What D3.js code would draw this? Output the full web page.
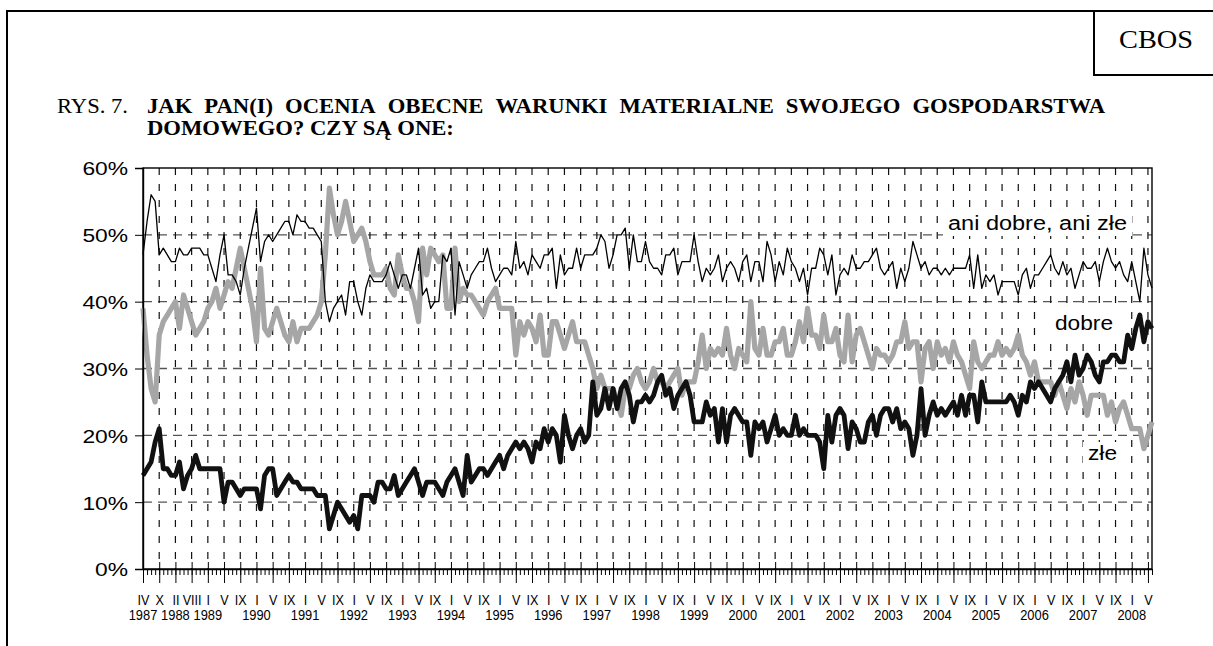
<!DOCTYPE html>
<html>
<head>
<meta charset="utf-8">
<script src="https://cdnjs.cloudflare.com/ajax/libs/d3/7.8.5/d3.min.js"></script>
<style>
  body { margin: 0; background: #fff; }
  svg { display: block; }
</style>
</head>
<body>
<div id="chart"></div>
<script>
/*
** CBOS - rys. 7
** Ocena warunkow materialnych gospodarstwa domowego 1987-2008
*/

// Global variables

let width = 1213;
let height = 646;

// plot box (0% .. 60%)
let plotLeft = 143;
let plotRight = 1152;
let plotTop = 168;
let plotBottom = 569;

// Colours of the series
let colorDobre = "#111111";
let colorZle = "#a6a6a6";
let colorAni = "#000000";

// month numerals
const romans = ["I", "II", "III", "IV", "V", "VI", "VII", "VIII", "IX", "X", "XI", "XII"];

// 1987-1988 surveys were not done every month
const earlySurveys = ["IV 1987", "V 1987", "VII 1987", "IX 1987", "X 1987", "XI 1987", "XII 1987",
    "I 1988", "II 1988", "III 1988", "V 1988", "VI 1988", "VIII 1988", "X 1988", "XI 1988", "XII 1988"];
const lastSurvey = "VI 2008";

// one label every 4 surveys
const labelEvery = 4;

const yTicks = [0, 10, 20, 30, 40, 50, 60];

// "dobre" (thick black)
const dobre = [
    14, 15, 16, 19, 21, 15, 15, 14, 14, 16, 12, 14, 15, 17, 15, 15,
    15, 15, 15, 15, 10, 13, 13, 12, 11, 12, 12, 12, 12, 9, 14, 15,
    15, 11, 12, 13, 14, 13, 13, 12, 12, 12, 12, 11, 11, 11, 6, 8,
    10, 9, 8, 7, 8, 6, 11, 11, 11, 10,
    13, 13, 12, 12, 14, 11, 12, 13, 14, 15,
    13, 11, 13, 13, 13, 12, 11, 13, 14, 15,
    13, 11, 17, 13, 14, 15, 15, 14, 15, 16,
    17, 15, 17, 18, 19, 18, 19, 18, 16, 19,
    18, 21, 19, 21, 20, 16, 23, 20, 18, 20,
    21, 19, 20, 28, 23, 24, 27, 24, 27, 24,
    27, 28, 26, 22, 25, 25, 26, 25, 26, 28,
    29, 26, 27, 24, 26, 27, 28, 26, 22, 22,
    22, 25, 23, 24, 19, 24, 19, 23, 24, 23,
    22, 22, 17, 22, 21, 22, 19, 21, 23, 20,
    21, 20, 20, 23, 20, 21, 20, 20, 20, 19,
    15, 23, 19, 23, 24, 23, 18, 22, 21, 19,
    19, 22, 23, 20, 23, 24, 24, 22, 24, 21,
    22, 21, 17, 20,
    27, 20, 23, 25, 23, 24, 23, 24, 25, 23,
    26, 23, 26, 26, 22, 28, 25, 25, 25, 25,
    25, 25, 26, 25, 23, 26, 25, 28, 27, 28,
    27, 26, 25, 27, 28, 29, 31, 28, 32, 29,
    30, 32, 31, 29, 28, 31, 31, 32, 32, 31,
    31, 35, 33, 36, 38, 34, 37, 36
];

// "ani dobre, ani zle" (thin black)
const aniDobreAniZle = [
    47, 52, 56, 55, 47, 48, 47, 46, 46, 48, 47, 47, 48, 48, 48, 47,
    47, 45, 43, 47, 50, 44, 44, 43, 41, 45, 48, 51, 54, 46, 49, 50,
    49, 50, 51, 52, 52, 50, 53, 52, 52, 51, 51, 50, 49, 40, 37, 39,
    40, 41, 38, 43, 43, 40, 38, 42, 44, 43,
    43, 43, 44, 46, 44, 42, 44, 44, 42, 45,
    48, 41, 42, 39, 40, 40, 47, 46, 48, 38,
    46, 44, 42, 44, 45, 46, 46, 48, 45, 43,
    44, 45, 45, 44, 49, 45, 46, 44, 47, 46,
    45, 47, 47, 48, 42, 47, 44, 45, 45, 48,
    45, 47, 47, 47, 48, 50, 49, 45, 47, 50,
    50, 51, 45, 50, 46, 46, 49, 46, 45, 45,
    44, 47, 47, 48, 44, 46, 46, 46, 50, 46,
    43, 45, 44, 45, 47, 43, 45, 46, 45, 43,
    46, 47, 43, 46, 46, 43, 49, 47, 43, 46,
    44, 48, 46, 45, 43, 45, 41, 45, 45, 48,
    47, 44, 47, 41, 44, 45, 44, 47, 45, 45,
    46, 46, 47, 48, 45, 44, 45, 46, 42, 45,
    43, 45, 49, 47,
    45, 46, 44, 45, 45, 44, 45, 44, 45, 45,
    45, 45, 47, 42, 47, 42, 44, 43, 44, 41,
    43, 43, 43, 43, 41, 44, 45, 42, 44, 44,
    45, 46, 47, 45, 44, 46, 44, 45, 42, 44,
    46, 45, 45, 46, 43, 46, 48, 46, 45, 46,
    44, 43, 46, 43, 40, 48, 44, 42
];

// "zle" (thick grey)
const zle = [
    39, 32, 27, 25, 35, 37, 38, 39, 40, 36, 41, 39, 37, 35, 36, 37,
    39, 40, 42, 39, 41, 43, 42, 45, 48, 45, 42, 39, 34, 45, 36, 35,
    37, 39, 37, 35, 34, 37, 34, 36, 36, 36, 37, 38, 40, 47, 57, 53,
    50, 52, 55, 52, 49, 50, 51, 49, 46, 44,
    44, 44, 45, 42, 41, 47, 44, 42, 42, 40,
    37, 48, 44, 48, 47, 46, 47, 39, 39, 48,
    40, 42, 41, 41, 40, 39, 38, 40, 41, 42,
    39, 39, 39, 39, 32, 37, 35, 37, 36, 34,
    38, 32, 32, 37, 37, 35, 33, 35, 37, 34,
    34, 34, 32, 30, 27, 29, 27, 27, 27, 25,
    23, 27, 27, 29, 30, 28, 27, 28, 30, 28,
    28, 27, 28, 29, 30, 26, 28, 28, 28, 31,
    35, 30, 33, 32, 33, 32, 36, 32, 30, 33,
    32, 31, 40, 33, 32, 36, 32, 32, 34, 34,
    36, 32, 32, 34, 37, 34, 39, 35, 35, 33,
    38, 34, 34, 36, 32, 31, 38, 31, 35, 36,
    34, 32, 30, 33, 32, 32, 31, 32, 34, 34,
    37, 33, 34, 34,
    28, 33, 34, 30, 34, 32, 33, 31, 34, 32,
    31, 29, 27, 34, 31, 30, 31, 32, 32, 34,
    32, 33, 32, 33, 35, 32, 31, 29, 31, 28,
    28, 28, 28, 26, 28, 26, 24, 27, 25, 28,
    26, 23, 26, 26, 26, 26, 23, 25, 22, 24,
    25, 23, 21, 21, 21, 18, 20, 22
];

// Build the survey categories: irregular ones first, then monthly from 1989
let categories = earlySurveys.slice();
for (let yr = 1989; yr <= 2008; yr++) {
    for (let m = 0; m < 12; m++) {
        let c = romans[m] + " " + yr;
        categories.push(c);
        if (c === lastSurvey) break;
    }
}

// labelled categories (every 4th survey)
let labelled = categories.filter((c, i) => i % labelEvery === 0);

// put the year under the first labelled survey of every year
let yearLabels = [];
labelled.forEach((c, i) => {
    let yr = c.split(" ")[1];
    if (i === 0 || labelled[i - 1].split(" ")[1] !== yr) {
        yearLabels.push({ cat: c, year: yr });
    }
});

// Scales
let x = d3.scalePoint()
    .domain(categories)
    .range([plotLeft, plotRight]);

let y = d3.scaleLinear()
    .domain([0, 60])
    .range([plotBottom, plotTop]);

let svg = d3.select("#chart")
    .append("svg")
    .attr("width", width)
    .attr("height", height);

// Stretch a text horizontally (the chart fonts are wider than normal)
function stretch(sel, k) {
    sel.each(function() {
        let len = this.getComputedTextLength();
        d3.select(this)
            .attr("textLength", len * k)
            .attr("lengthAdjust", "spacingAndGlyphs");
    });
}

// Page frame and the CBOS box
svg.append("path")
    .attr("d", `M7,${height} V11 H${width}`)
    .style("fill", "none")
    .style("stroke", "#000")
    .style("stroke-width", 2);

svg.append("path")
    .attr("d", `M1094,11 V75 H${width}`)
    .style("fill", "none")
    .style("stroke", "#000")
    .style("stroke-width", 2);

svg.append("text")
    .attr("x", 1119)
    .attr("y", 48)
    .attr("textLength", 74)
    .attr("lengthAdjust", "spacingAndGlyphs")
    .style("font-family", "'Liberation Serif', serif")
    .style("font-size", "26px")
    .text("CBOS");

// Title
let title = svg.append("g")
    .style("font-family", "'Liberation Serif', serif")
    .style("font-size", "21px");

title.append("text")
    .attr("x", 57)
    .attr("y", 113)
    .attr("textLength", 71)
    .attr("lengthAdjust", "spacingAndGlyphs")
    .text("RYS. 7.");

// 1st line is justified to 1105: words a little squeezed, gaps a little wider
let titleWidth = 958;
let wordGap = 12;
let line1 = "JAK PAN(I) OCENIA OBECNE WARUNKI MATERIALNE SWOJEGO GOSPODARSTWA".split(" ");
let words = title.selectAll(".word")
    .data(line1)
    .enter().append("text")
    .attr("class", "word")
    .attr("y", 113)
    .style("font-weight", "bold")
    .text(d => d);
let natural = [];
words.each(function() { natural.push(this.getComputedTextLength()); });
let squeeze = (titleWidth - wordGap * (line1.length - 1)) / d3.sum(natural);
let wx = 147;
words.each(function(d, i) {
    d3.select(this)
        .attr("x", wx)
        .attr("textLength", natural[i] * squeeze)
        .attr("lengthAdjust", "spacingAndGlyphs");
    wx += natural[i] * squeeze + wordGap;
});

// 2nd line with the same squeeze
let t2 = title.append("text")
    .attr("x", 147)
    .attr("y", 135)
    .style("font-weight", "bold")
    .text("DOMOWEGO? CZY SĄ ONE:");
stretch(t2, squeeze);

// Gridlines
svg.append("g")
    .attr("class", "grid-y")
    .selectAll("line")
    .data(yTicks.filter(d => d > 0 && d < 60))
    .enter().append("line")
    .attr("x1", plotLeft)
    .attr("x2", plotRight)
    .attr("y1", d => y(d))
    .attr("y2", d => y(d))
    .style("stroke", "#555")
    .style("stroke-width", 1.3)
    .style("stroke-dasharray", "9,6");

svg.append("g")
    .attr("class", "grid-x")
    .selectAll("line")
    .data(labelled.slice(1))
    .enter().append("line")
    .attr("x1", d => x(d))
    .attr("x2", d => x(d))
    .attr("y1", plotTop)
    .attr("y2", plotBottom)
    .style("stroke", "#111")
    .style("stroke-width", 1.2)
    .style("stroke-dasharray", "7,9");

// plot border
svg.append("rect")
    .attr("x", plotLeft)
    .attr("y", plotTop)
    .attr("width", plotRight - plotLeft)
    .attr("height", plotBottom - plotTop)
    .style("fill", "none")
    .style("stroke", "#000")
    .style("stroke-width", 1.4);

// Series labels (white box hides the gridlines behind them)
let seriesLabels = [
    { text: "ani dobre, ani złe", x: 948, y: 230, w: 179 },
    { text: "dobre", x: 1055, y: 330, w: 58 },
    { text: "złe", x: 1088, y: 460, w: 29 }
];

let labelG = svg.append("g")
    .selectAll("g")
    .data(seriesLabels)
    .enter().append("g");

labelG.append("rect")
    .attr("x", d => d.x - 5)
    .attr("y", d => d.y - 18)
    .attr("width", d => d.w + 10)
    .attr("height", 24)
    .style("fill", "#fff");

labelG.append("text")
    .attr("x", d => d.x)
    .attr("y", d => d.y)
    .attr("textLength", d => d.w)
    .attr("lengthAdjust", "spacingAndGlyphs")
    .style("font-family", "'Liberation Sans', Arial, sans-serif")
    .style("font-size", "20px")
    .text(d => d.text);

// Series
let line = d3.line()
    .x((d, i) => x(categories[i]))
    .y(d => y(d));

let series = [
    { name: "zle", values: zle, color: colorZle, w: 5.2 },
    { name: "dobre", values: dobre, color: colorDobre, w: 4.8 },
    { name: "ani", values: aniDobreAniZle, color: colorAni, w: 1.3 }
];

svg.append("g")
    .attr("class", "series")
    .selectAll("path")
    .data(series)
    .enter().append("path")
    .attr("d", d => line(d.values))
    .style("fill", "none")
    .style("stroke", d => d.color)
    .style("stroke-width", d => d.w)
    .style("stroke-linejoin", "round");

// X axis - minor ticks on every survey
let xMinor = svg.append("g")
    .attr("transform", `translate(0,${plotBottom})`)
    .call(d3.axisBottom(x).tickValues(categories).tickSize(6).tickSizeOuter(0).tickFormat(""));
xMinor.select(".domain").style("stroke", "#000").style("stroke-width", 1.4);
xMinor.selectAll(".tick line").style("stroke", "#000");

// X axis - major ticks with month labels
let xMajor = svg.append("g")
    .attr("transform", `translate(0,${plotBottom})`)
    .call(d3.axisBottom(x).tickValues(labelled).tickSize(14).tickFormat(d => d.split(" ")[0]));
xMajor.select(".domain").remove();
xMajor.selectAll(".tick line")
    .attr("y1", -7)
    .style("stroke", "#000");
xMajor.selectAll(".tick text")
    .attr("y", 36)
    .attr("dy", 0)
    .style("font-family", "'Liberation Sans', Arial, sans-serif")
    .style("font-size", "14px")
    .style("fill", "#000");
stretch(xMajor.selectAll(".tick text"), 0.9);

// years under the month labels
svg.append("g")
    .selectAll("text")
    .data(yearLabels)
    .enter().append("text")
    .attr("x", d => x(d.cat))
    .attr("y", plotBottom + 51)
    .attr("text-anchor", "middle")
    .style("font-family", "'Liberation Sans', Arial, sans-serif")
    .style("font-size", "14px")
    .text(d => d.year)
    .call(stretch, 0.92);

// Y axis
let yAxis = svg.append("g")
    .attr("transform", `translate(${plotLeft},0)`)
    .call(d3.axisLeft(y).tickValues(yTicks).tickSize(8).tickFormat(d => d + "%"));
yAxis.select(".domain").style("stroke", "#000").style("stroke-width", 1.4);
yAxis.selectAll(".tick line").style("stroke", "#000");
yAxis.selectAll(".tick text")
    .attr("x", -15)
    .attr("dy", "0.36em")
    .style("font-family", "'Liberation Sans', Arial, sans-serif")
    .style("font-size", "19px")
    .style("fill", "#000");
stretch(yAxis.selectAll(".tick text"), 1.2);
</script>
</body>
</html>
